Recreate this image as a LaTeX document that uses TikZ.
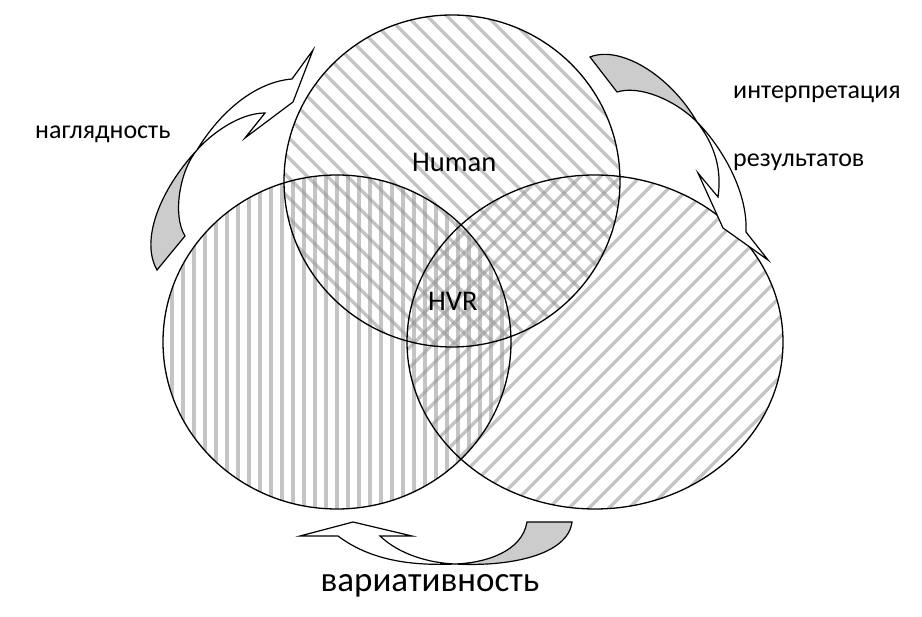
\documentclass[tikz,border=0pt]{standalone}
\usepackage{fontspec}
\setmainfont{Carlito}
\tikzset{
  stripe/.style={line width=3.2pt, draw=black!42, draw opacity=0.55},
  ring/.style={draw=black, line width=1.3pt},
  band/.style={draw=black, line width=1.2pt, line join=miter, fill=white},
  bandback/.style={draw=black, line width=1.2pt, line join=miter, fill=black!20},
  lbl/.style={inner sep=0pt, font=\fontsize{28.5}{33}\selectfont},
  side/.style={inner sep=0pt, font=\fontsize{26}{31}\selectfont},
  bottom/.style={inner sep=0pt, font=\fontsize{35}{40}\selectfont}
}
\begin{document}
\begin{tikzpicture}[x=1pt,y=-1pt]
\useasboundingbox (0,0) rectangle (922,617);
% centres
\coordinate (cT) at (452,181);
\coordinate (cL) at (337,342);
\coordinate (cR) at (595,342);
% patterns
\begin{scope}
  \clip (cT) ellipse (168 and 166);
  \foreach \k in {-18,...,18}
    \draw[stripe] ({452+\k*10-260},{181-\k*10-260}) -- ++(520,520);
\end{scope}
\begin{scope}
  \clip (cL) ellipse (174 and 167);
  \foreach \k in {-17,...,17}
    \draw[stripe] ({337+\k*11},160) -- ++(0,370);
\end{scope}
\begin{scope}
  \clip (cR) ellipse (188 and 167);
  \foreach \k in {-20,...,20}
    \draw[stripe] ({595+\k*10-280},{342+\k*10+280}) -- ++(560,-560);
\end{scope}
% outlines
\draw[ring] (cT) ellipse (168 and 166);
\draw[ring] (cL) ellipse (174 and 167);
\draw[ring] (cR) ellipse (188 and 167);
% labels
\node[lbl, anchor=base west] (human) at (412,172) {Human};
\node[lbl, anchor=base west] (hvr) at (428,311) {HVR};
\node[side, anchor=base west] (nagl) at (35,139) {наглядность};
\node[side, anchor=base west] (interp) at (733,99) {интерпретация};
\node[side, anchor=base west] (rez) at (733,167) {результатов};
\node[bottom, anchor=base] (var) at (430,591) {вариативность};
% left curved arrow
\coordinate (X1) at (197,150);
\draw[bandback] (157,270) .. controls (140,240) and (160,190) .. (X1)
  .. controls (180,170) and (172,215) .. (185,236) -- cycle;
\draw[band] (X1) .. controls (220,112) and (255,82) .. (292,79)
  -- (313,50) -- (293,102) -- (245,138) -- (265,113)
  .. controls (240,113) and (212,133) .. (X1) -- cycle;
% right curved arrow
\coordinate (X2) at (697,122);
\draw[bandback] (590,57) .. controls (620,45) and (670,75) .. (X2)
  .. controls (675,100) and (640,85) .. (617,92) -- cycle;
\draw[band] (X2) .. controls (720,145) and (748,190) .. (746,232)
  -- (768,260) -- (723,228) -- (698,173) -- (718,197)
  .. controls (722,170) and (715,145) .. (X2) -- cycle;
% bottom curved arrow
\coordinate (X3) at (455,564);
\draw[bandback] (X3) .. controls (510,567) and (568,555) .. (572,522)
  -- (527,522) .. controls (522,552) and (485,563) .. (X3) -- cycle;
\draw[band] (X3) .. controls (410,566) and (370,560) .. (338,536)
  -- (300,536) -- (353,522) -- (412,536) -- (380,536)
  .. controls (400,555) and (430,563) .. (X3) -- cycle;
\end{tikzpicture}
\end{document}
